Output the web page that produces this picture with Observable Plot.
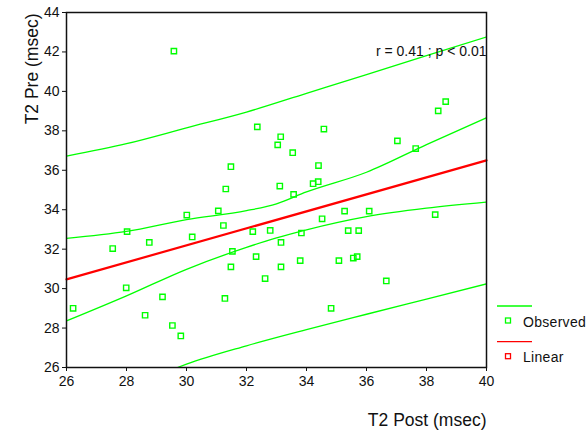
<!DOCTYPE html>
<html><head><meta charset="utf-8">
<script src="https://cdn.jsdelivr.net/npm/d3@7"></script>
<script src="https://cdn.jsdelivr.net/npm/@observablehq/plot@0.6"></script>
<style>
body{margin:0;background:#fff;}
#chart{position:relative;width:586px;height:434px;font-family:Arial,"Liberation Sans",sans-serif;}
#legend{position:absolute;left:490px;top:290px;}
</style></head><body>
<div id="chart"></div>
<script>
// Observed points: T2 Post (x) and T2 Pre (y)
const postX = [26.22,27.54,28.02,27.99,28.76,28.62,29.2,29.53,29.81,30.01,30.19,31.06,31.23,31.31,31.28,31.53,31.48,32.21,32.32,32.62,32.79,33.11,33.15,33.15,34.22,34.39,33.57,35.27,36.09,34.52,33.83,35.39,35.74,33.79,35.08,35.56,35.69,36.66,34.82,38.29,33.54,33.04,33.14,34.58,34.4,37.03,37.64,38.39,38.64,29.58,32.36,31.48];
const preY  = [29.0,32.03,32.89,30.04,32.34,28.65,29.58,28.13,27.6,33.73,32.62,33.94,33.2,35.05,29.5,31.89,31.1,32.89,31.62,30.51,32.95,35.2,32.34,31.1,35.32,35.42,34.78,33.93,33.93,33.54,32.82,32.94,32.94,31.42,31.42,31.55,31.62,30.39,29.0,33.75,36.89,37.29,37.7,38.09,36.24,37.49,37.1,39.01,39.48,42.04,38.2,36.18];

// Linear fit (red)
const fitX = [26, 40];
const fitY = [30.47, 36.5];

// Inner band (confidence of mean)
const ciX = [26, 28, 30, 32, 33, 34, 36, 38, 40];
const ciUpper = [32.55, 32.9, 33.5, 33.95, 34.3, 34.9, 35.9, 37.3, 38.66];
const ciLower = [28.36, 29.63, 30.98, 32.09, 32.57, 32.98, 33.65, 34.08, 34.39];

// Outer band (prediction)
const piUpperX = [26, 28, 30, 32, 34, 36, 38, 40];
const piUpper = [36.72, 37.35, 38.15, 38.95, 39.9, 40.85, 41.81, 42.76];
const piLowerX = [29.7, 30, 32, 34, 36, 38, 40];
const piLower = [26.0, 26.17, 27.1, 27.92, 28.7, 29.47, 30.24];

const xTicks = [26, 28, 30, 32, 34, 36, 38, 40];
const yTicks = [26, 28, 30, 32, 34, 36, 38, 40, 42, 44];
const annotation = "r = 0.41 ; p < 0.01";
const xTitle = "T2 Post (msec)";
const yTitle = "T2 Pre (msec)";
const legendItems = ["Observed", "Linear"];

const GREEN = "#00ff00", RED = "#ff0000";
const pts = postX.map((x, i) => ({x, y: preY[i]}));
const toXY = (xs, ys) => xs.map((x, i) => ({x, y: ys[i]}));

const chart = Plot.plot({
  width: 586, height: 434,
  marginLeft: 66, marginRight: 100, marginTop: 12, marginBottom: 67,
  style: {fontFamily: 'Arial, "Liberation Sans", sans-serif', fontSize: "14px", color: "#111", background: "white", overflow: "visible"},
  x: {domain: [26, 40], ticks: xTicks, tickSize: 4, tickPadding: 5, label: null},
  y: {domain: [26, 44], ticks: yTicks, tickSize: 4, tickPadding: 3, label: null},
  marks: [
    Plot.line(toXY(piUpperX, piUpper), {x: "x", y: "y", stroke: GREEN, strokeWidth: 1.3, curve: "monotone-x", clip: true}),
    Plot.line(toXY(piLowerX, piLower), {x: "x", y: "y", stroke: GREEN, strokeWidth: 1.3, curve: "monotone-x", clip: true}),
    Plot.line(toXY(ciX, ciUpper), {x: "x", y: "y", stroke: GREEN, strokeWidth: 1.3, curve: "monotone-x", clip: true}),
    Plot.line(toXY(ciX, ciLower), {x: "x", y: "y", stroke: GREEN, strokeWidth: 1.3, curve: "monotone-x", clip: true}),
    Plot.line(toXY(fitX, fitY), {x: "x", y: "y", stroke: RED, strokeWidth: 2.2}),
    Plot.dot(pts, {x: "x", y: "y", symbol: "square", r: 3.0, stroke: GREEN, strokeWidth: 1.4, fill: "none"}),
    Plot.frame({stroke: "#111", strokeWidth: 1.5}),
    Plot.text([annotation], {x: 40, y: 42.0, text: d => d, textAnchor: "end", fontSize: 14, fill: "#111"}),
    Plot.text([yTitle], {frameAnchor: "top-left", text: d => d, rotate: -90, textAnchor: "end", dx: -41, dy: 1, fontSize: 17.5, fill: "#111"}),
    Plot.text([xTitle], {frameAnchor: "bottom-right", text: d => d, textAnchor: "end", dy: 58.5, fontSize: 17.5, fill: "#111"})
  ]
});
document.getElementById("chart").appendChild(chart);

// Legend
const leg = d3.select("#chart").append("svg").attr("id", "legend").attr("width", 96).attr("height", 80);
const legColors = [GREEN, RED];
legendItems.forEach((name, i) => {
  const y0 = i * 35.7;
  leg.append("line").attr("x1", 7).attr("x2", 42).attr("y1", 16 + y0).attr("y2", 16 + y0)
    .attr("stroke", legColors[i]).attr("stroke-width", 1.3);
  leg.append("rect").attr("x", 15.5).attr("y", 28 + y0).attr("width", 5).attr("height", 5)
    .attr("fill", "none").attr("stroke", legColors[i]).attr("stroke-width", 1.3);
  leg.append("text").attr("x", 33).attr("y", 36.5 + y0).text(name)
    .attr("font-family", 'Arial, "Liberation Sans", sans-serif').attr("font-size", 14)
    .attr("letter-spacing", 0.3).attr("fill", "#111");
});
</script>
</body></html>
